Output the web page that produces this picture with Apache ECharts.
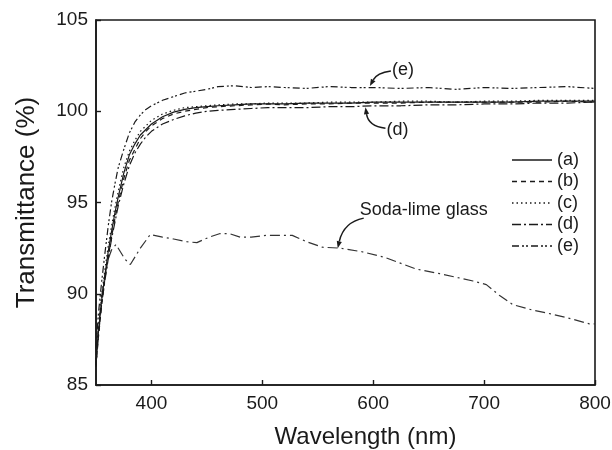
<!DOCTYPE html>
<html><head><meta charset="utf-8">
<script src="https://cdn.jsdelivr.net/npm/echarts@6/dist/echarts.min.js"></script>
<style>html,body{margin:0;padding:0;background:#fff}#c{width:612px;height:450px}</style>
</head><body><div id="c"></div>
<script>
const wavelength = [350,352,355,358,361,364,367,370,375,380,385,390,395,400,410,420,430,440,450,460,475,490,505,520,540,560,580,600,625,650,675,700,725,750,775,800];
const seriesA = [86.2,87.8,89.6,91.0,92.3,93.4,94.4,95.3,96.6,97.6,98.2,98.7,99.0,99.3,99.7,99.95,100.1,100.2,100.25,100.3,100.35,100.4,100.4,100.4,100.45,100.45,100.45,100.5,100.5,100.5,100.5,100.5,100.5,100.55,100.55,100.55];
const seriesB = [86.0,87.5,89.3,90.8,92.0,93.1,94.1,95.0,96.3,97.3,97.9,98.5,98.9,99.2,99.6,99.85,100.0,100.1,100.2,100.25,100.3,100.35,100.4,100.35,100.4,100.4,100.45,100.45,100.45,100.5,100.5,100.5,100.5,100.5,100.55,100.5];
const seriesC = [86.4,88.0,89.9,91.3,92.6,93.7,94.7,95.6,96.9,97.8,98.4,98.9,99.2,99.5,99.85,100.05,100.2,100.25,100.3,100.35,100.4,100.4,100.45,100.45,100.45,100.5,100.5,100.5,100.55,100.55,100.5,100.55,100.55,100.6,100.6,100.6];
const seriesD = [86.1,87.6,89.4,90.7,91.9,93.0,93.9,94.8,96.0,97.0,97.7,98.2,98.6,98.9,99.3,99.55,99.75,99.9,100.0,100.05,100.1,100.15,100.2,100.2,100.2,100.25,100.25,100.3,100.3,100.35,100.35,100.4,100.4,100.45,100.45,100.5];
const seriesE = [87.0,88.8,90.6,92.2,93.7,95.0,96.0,96.9,97.9,98.8,99.4,99.8,100.1,100.3,100.6,100.8,101.0,101.1,101.2,101.35,101.4,101.3,101.35,101.3,101.25,101.35,101.3,101.3,101.25,101.3,101.2,101.3,101.25,101.3,101.35,101.25];
const sodaWavelength = [350,352,355,358,361,364,368,372,376,381,390,399,410,420,432,441,452,462,470,480,490,504,527,540,554,570,590,610,639,660,675,690,702,714,726,744,760,774,795,800];
const sodaT = [86.5,88.0,89.8,91.0,91.9,92.4,92.7,92.3,91.9,91.6,92.5,93.25,93.1,93.0,92.85,92.8,93.1,93.3,93.3,93.1,93.1,93.2,93.2,92.85,92.55,92.5,92.3,92.0,91.35,91.1,90.9,90.7,90.5,89.9,89.4,89.1,88.9,88.7,88.35,88.35];
const seriesNames = ['(a)','(b)','(c)','(d)','(e)'];
const xTicks = [400,500,600,700,800];

const FONT = 'Liberation Sans, Arial, Helvetica, sans-serif';
const INK = '#1a1a1a';
const chart = echarts.init(document.getElementById('c'));
const pairs = (xs, ys) => xs.map((x,i)=>[x, ys[i]]);
const dashes = ['solid',[5,4],[1.5,3],[9,3,2,3],[7,3,2,2,2,3]];
const allY = [seriesA,seriesB,seriesC,seriesD,seriesE];
const series = seriesNames.map((n,i)=>({
  name:n, type:'line', symbol:'none', data:pairs(wavelength, allY[i]),
  lineStyle:{color:INK, width:1.2, type:dashes[i]}, itemStyle:{color:INK}, z:3
}));
series.push({name:'Soda-lime glass', type:'line', symbol:'none', data:pairs(sodaWavelength, sodaT),
  lineStyle:{color:'#333', width:1.2, type:[10,4,2,4]}, itemStyle:{color:'#333'}, z:2});

chart.setOption({
  animation:false,
  backgroundColor:'#fff',
  grid:{left:96, right:17, top:20, bottom:65, outerBoundsMode:'none', containLabel:false,
    show:true, borderColor:INK, borderWidth:1.6, backgroundColor:'transparent'},
  legend:{data:seriesNames, orient:'vertical', right:28, top:146, itemWidth:40, itemHeight:14, itemGap:3.5,
    itemStyle:{opacity:0}, lineStyle:{width:1.3},
    textStyle:{fontFamily:FONT, fontSize:18, color:INK}},
  xAxis:{type:'value', min:350, max:800,
    name:'Wavelength (nm)', nameLocation:'middle', nameGap:40,
    nameTextStyle:{fontFamily:FONT, fontSize:24, color:INK, padding:[0,0,0,40]},
    axisLine:{lineStyle:{color:INK, width:1.6}},
    axisTick:{inside:true, length:5, lineStyle:{color:INK, width:1.4}, customValues:xTicks},
    axisLabel:{fontFamily:FONT, fontSize:19, color:INK, margin:9, customValues:xTicks},
    splitLine:{show:false}},
  yAxis:{type:'value', min:85, max:105, interval:5,
    name:'Transmittance (%)', nameLocation:'middle', nameGap:56,
    nameTextStyle:{fontFamily:FONT, fontSize:26, color:INK},
    axisLine:{show:true, lineStyle:{color:INK, width:1.6}},
    axisTick:{show:true, inside:true, length:5, lineStyle:{color:INK, width:1.4}},
    axisLabel:{fontFamily:FONT, fontSize:19, color:INK, margin:8},
    splitLine:{show:false}},
  series
});

function arrow(p0, c, tip) {
  const dx = tip[0]-c[0], dy = tip[1]-c[1], L = Math.hypot(dx,dy);
  const ux = dx/L, uy = dy/L, nx = -uy, ny = ux, h = 7, w = 2.6;
  const base = [tip[0]-ux*h, tip[1]-uy*h];
  return [
    {type:'bezierCurve', shape:{x1:p0[0], y1:p0[1], x2:base[0], y2:base[1], cpx1:c[0], cpy1:c[1]},
     style:{stroke:INK, lineWidth:1.5, fill:null}, z:10},
    {type:'polygon', shape:{points:[tip,[base[0]+nx*w, base[1]+ny*w],[base[0]-nx*w, base[1]-ny*w]]},
     style:{fill:INK}, z:10}
  ];
}
const P = (x,y)=>chart.convertToPixel({gridIndex:0},[x,y]);
const tE = P(597,101.38), tD = P(593,100.22), tS = P(568,92.5);
const g = [];
g.push(...arrow([tE[0]+21,tE[1]-15],[tE[0]+7,tE[1]-13],tE));
g.push({type:'text', style:{text:'(e)', x:tE[0]+22, y:tE[1]-16, textVerticalAlign:'middle', font:'18px '+FONT, fill:INK}, z:10});
g.push(...arrow([tD[0]+20,tD[1]+21],[tD[0]+3,tD[1]+19],tD));
g.push({type:'text', style:{text:'(d)', x:tD[0]+21, y:tD[1]+23, textVerticalAlign:'middle', font:'18px '+FONT, fill:INK}, z:10});
g.push(...arrow([tS[0]+26,tS[1]-30],[tS[0]+6,tS[1]-26],tS));
g.push({type:'text', style:{text:'Soda-lime glass', x:tS[0]+22, y:tS[1]-38, textVerticalAlign:'middle', font:'18px '+FONT, fill:INK}, z:10});
chart.setOption({graphic:g});
</script></body></html>
